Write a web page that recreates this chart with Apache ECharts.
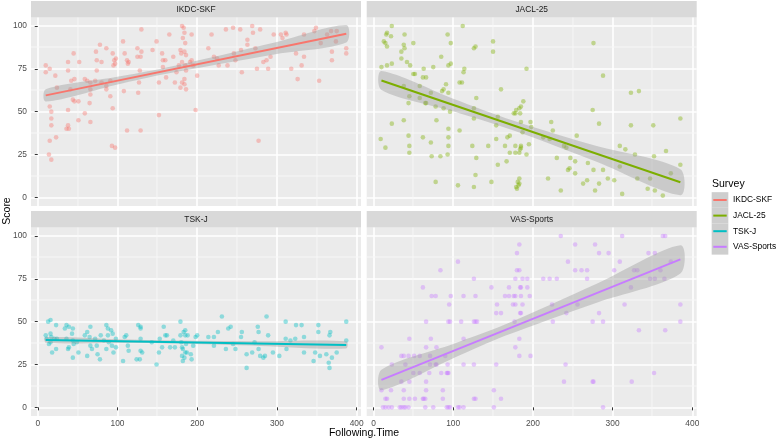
<!DOCTYPE html>
<html><head><meta charset="utf-8">
<script src="https://cdn.jsdelivr.net/npm/echarts@6/dist/echarts.min.js"></script>
<style>html,body{margin:0;padding:0;background:#fff}#c{width:778px;height:441px}</style>
</head><body><div id="c"></div>
<script>
const surveys = ['IKDC-SKF','JACL-25','TSK-J','VAS-Sports'];
const colors = ['#F8766D','#7CAE00','#00BFC4','#C77CFF'];
const xTicks = [0,100,200,300,400];
const yTicks = [0,25,50,75,100];
const xMinor = [50,150,250,350];
const yMinor = [12.5,37.5,62.5,87.5];

const ikdcPts = [[10,77],[10,73],[15,75],[22,71],[24,64],[15,53],[17,50],[17,46],[17,42],[15,33],[23,35],[14,25],[17,22],[38,79],[45,84],[38,74],[42,68],[46,69],[41,63],[44,57],[46,56],[51,56],[38,51],[38,42],[36,40],[39,40],[51,45],[52,79],[59,69],[62,68],[66,67],[66,63],[66,60],[65,55],[59,49],[66,44],[73,85],[78,89],[86,87],[74,80],[80,79],[74,74],[72,68],[80,67],[86,65],[86,63],[91,68],[94,84],[96,80],[97,78],[95,77],[98,81],[91,59],[94,52],[93,30],[97,29],[107,91],[109,84],[112,80],[113,78],[114,79],[108,62],[112,39],[125,82],[125,87],[129,82],[130,85],[130,98],[128,74],[126,61],[129,39],[127,67],[144,86],[149,91],[152,67],[152,48],[156,84],[157,80],[157,76],[160,80],[161,70],[165,95],[170,82],[172,67],[174,73],[177,77],[179,86],[180,84],[181,100],[183,99],[184,96],[182,93],[185,90],[184,85],[186,83],[181,79],[185,77],[186,74],[184,69],[181,67],[184,66],[179,64],[186,63],[191,79],[193,80],[193,95],[195,77],[200,71],[198,51],[218,95],[214,87],[221,82],[225,81],[227,77],[236,98],[238,77],[245,99],[246,84],[248,80],[254,98],[255,86],[256,73],[263,92],[263,89],[269,100],[270,96],[273,87],[275,75],[279,98],[277,33],[283,79],[287,80],[289,75],[292,82],[296,95],[305,95],[307,93],[311,96],[312,95],[318,75],[324,84],[326,69],[331,77],[334,82],[334,95],[347,97],[349,99],[353,68],[355,90],[363,95],[368,97],[369,85],[369,80],[374,91],[387,87],[387,84],[375,97]];

const jaclPts = [[23,100],[17,96],[16,95],[22,94],[13,91],[15,90],[17,88],[10,76],[17,77],[23,78],[39,95],[38,89],[35,85],[39,87],[50,90],[35,81],[42,79],[46,77],[50,72],[52,72],[38,65],[45,59],[44,55],[58,65],[58,58],[63,75],[62,70],[66,70],[65,55],[66,55],[72,61],[75,76],[78,53],[85,82],[86,62],[88,63],[91,66],[88,52],[93,95],[97,90],[94,77],[97,78],[94,61],[96,50],[79,45],[108,67],[111,67],[112,100],[114,75],[113,73],[126,87],[128,88],[129,58],[126,52],[126,46],[150,91],[150,85],[160,63],[156,47],[154,34],[156,19],[144,30],[129,23],[128,13],[106,7],[126,6],[148,9],[78,9],[192,75],[188,56],[185,53],[183,52],[179,51],[176,49],[178,49],[184,49],[185,44],[187,38],[197,44],[198,41],[195,31],[192,25],[185,30],[184,28],[183,26],[178,26],[171,26],[165,30],[167,21],[171,36],[183,11],[181,9],[183,8],[180,5],[182,7],[179,6],[213,35],[219,11],[221,34],[223,44],[225,39],[230,23],[235,4],[239,30],[242,29],[244,16],[246,17],[247,23],[253,21],[253,14],[255,36],[263,8],[268,10],[269,20],[275,51],[276,90],[276,16],[278,4],[283,8],[283,43],[288,71],[288,16],[294,11],[302,10],[309,30],[309,18],[312,2],[316,28],[323,61],[323,42],[328,25],[331,11],[333,62],[344,5],[347,11],[351,42],[352,24],[353,4],[363,1],[367,27],[373,14],[385,46],[385,19],[9,34],[15,29],[23,43],[38,45],[44,36],[45,30],[45,26],[62,35],[72,32],[73,24],[84,24],[93,25],[94,30],[94,35],[94,40],[108,39],[124,30],[154,42],[168,35],[178,30],[185,29]];

const tskPts = [[10,42],[11,40],[13,50],[16,51],[16,43],[17,41],[16,38],[14,37],[18,32],[21,40],[23,48],[23,34],[24,40],[34,46],[36,48],[39,47],[36,40],[39,35],[38,34],[44,46],[43,43],[44,39],[45,37],[44,29],[51,32],[49,38],[59,42],[62,44],[62,30],[66,47],[65,41],[66,36],[68,34],[72,40],[74,36],[75,31],[78,28],[79,42],[83,39],[86,48],[88,46],[88,42],[89,38],[86,34],[92,45],[94,43],[93,36],[95,32],[98,40],[98,35],[107,27],[109,41],[111,42],[113,36],[114,33],[124,28],[126,48],[129,47],[129,46],[129,40],[129,33],[131,32],[128,28],[143,38],[149,25],[152,32],[153,40],[156,35],[158,47],[160,42],[162,42],[166,35],[170,39],[172,35],[179,50],[179,42],[180,38],[181,35],[182,34],[181,30],[182,27],[183,44],[185,45],[185,42],[186,37],[185,32],[184,29],[187,32],[188,42],[192,31],[193,28],[195,36],[198,41],[200,42],[214,41],[221,36],[221,41],[226,44],[231,53],[236,34],[239,46],[242,47],[245,37],[248,34],[255,41],[256,44],[262,31],[262,23],[269,32],[272,38],[276,47],[277,44],[277,34],[279,30],[283,29],[285,30],[287,53],[289,42],[295,32],[303,30],[311,50],[311,40],[312,34],[317,39],[323,40],[324,48],[331,48],[334,32],[334,41],[346,27],[348,32],[352,48],[352,44],[354,30],[362,31],[365,26],[366,42],[367,44],[369,29],[366,23],[375,32],[387,50],[387,39]];

const vasPts = [[12,0],[15,0],[19,0],[23,0],[33,0],[35,0],[38,0],[40,0],[44,0],[65,0],[75,0],[92,0],[94,0],[96,0],[106,0],[108,0],[113,0],[151,0],[288,0],
[15,5],[17,5],[38,5],[45,5],[52,5],[62,5],[63,5],[65,5],[87,5],[126,5],[128,5],[160,5],
[10,10],[22,10],[38,10],[66,10],[87,10],[151,10],
[35,15],[45,15],[66,15],[239,15],[275,15],[276,15],[324,15],
[50,20],[58,20],[70,20],[85,20],[92,20],[93,20],[94,20],[352,20],
[23,25],[40,25],[71,25],[78,25],[79,25],[93,25],[113,25],[126,25],[154,25],[241,25],
[35,30],[38,30],[44,30],[51,30],[58,30],[71,30],[90,30],[183,30],[197,30],
[10,35],[66,35],[79,35],[178,35],
[45,40],[72,40],[113,40],[183,40],
[333,45],[366,45],
[66,50],[94,50],[96,50],[110,50],[126,50],[128,50],[130,50],[177,50],[225,50],[275,50],[288,50],[385,50],
[154,55],[160,55],[184,55],[185,55],[242,55],[283,55],
[95,60],[155,60],[175,60],[178,60],[187,60],[224,60],[256,60],[315,60],[385,60],
[73,65],[78,65],[97,65],[113,65],[128,65],[165,65],[170,65],[176,65],[178,65],[185,65],[196,65],
[62,70],[148,70],[170,70],[184,70],[185,70],[193,70],[323,70],
[126,75],[178,75],[187,75],[193,75],[213,75],[221,75],[230,75],[268,75],[347,75],[353,75],[365,75],
[84,80],[180,80],[183,80],[253,80],[261,80],[268,80],[302,80],[327,80],[331,80],[360,80],
[106,85],[244,85],[309,85],[373,85],
[180,90],[283,90],[295,90],[345,90],[353,90],
[183,95],[253,95],[278,95],
[235,100],[312,100],[363,100],[366,100]];

const ikdcFit = [[10,59.5],[387,95.5]];
const jaclFit = [[10,68.2],[385,8.8]];
const tskFit = [[10,39.3],[387,36.4]];
const vasFit = [[10,16.0],[385,86.3]];

const ikdcBandX = [10,100,160,300,387], ikdcBandLo = [55.9,65.9,72.0,83.7,90.4], ikdcBandHi = [63.1,70.3,75.6,90.7,100.6];
const jaclBandX = [10,100,175,280,385], jaclBandLo = [62.7,50.2,39.1,20.7,1.2], jaclBandHi = [73.7,57.6,44.9,29.9,16.4];
const tskBandX = [10,100,170,280,387], tskBandLo = [37.7,37.5,37.2,35.8,34.3], tskBandHi = [40.9,39.7,39.0,38.6,38.5];
const vasBandX = [10,100,165,280,385], vasBandLo = [10.0,28.6,41.7,61.1,78.1], vasBandHi = [22.0,37.0,48.3,72.1,94.6];

const allPts = [ikdcPts, jaclPts, tskPts, vasPts];
const allFit = [ikdcFit, jaclFit, tskFit, vasFit];
const allBand = [[ikdcBandX,ikdcBandLo,ikdcBandHi],[jaclBandX,jaclBandLo,jaclBandHi],[tskBandX,tskBandLo,tskBandHi],[vasBandX,vasBandLo,vasBandHi]];

const FONT = 'Liberation Sans, Arial, sans-serif';
const PW = 330, PH = 188.5, STRIP = 16.4;
const XMIN = -8.5, XMAX = 405.5, YMIN = -5, YMAX = 105;
const layout = [{l:31,t:17.4},{l:366.7,t:17.4},{l:31,t:227.4},{l:366.7,t:227.4}];

const grids = [], xAxes = [], yAxes = [], series = [], graphics = [];
layout.forEach((p, i) => {
  grids.push({left:p.l, top:p.t, width:PW, height:PH, show:true, backgroundColor:'#EBEBEB', borderWidth:0, containLabel:false});
  const bottom = i >= 2, leftCol = (i % 2 === 0);
  xAxes.push({type:'value', gridIndex:i, min:XMIN, max:XMAX,
    axisLine:{show:false},
    splitLine:{show:true, lineStyle:{color:'#FFFFFF', width:1.6}},
    axisTick:{show:bottom, length:3, customValues:xTicks, lineStyle:{color:'#333333', width:1}},
    axisLabel:{show:bottom, customValues:xTicks, margin:4, fontSize:8.4, color:'#4D4D4D', fontFamily:FONT}});
  yAxes.push({type:'value', gridIndex:i, min:YMIN, max:YMAX,
    axisLine:{show:false},
    splitLine:{show:true, lineStyle:{color:'#FFFFFF', width:1.6}},
    axisTick:{show:leftCol, length:3, customValues:yTicks, lineStyle:{color:'#333333', width:1}},
    axisLabel:{show:leftCol, customValues:yTicks, margin:4, fontSize:8.4, color:'#4D4D4D', fontFamily:FONT}});
  // minor grid lines (thin filled rects), positioned through the axes' scales
  series.push({type:'custom', xAxisIndex:i, yAxisIndex:i, data:[[0,0]], z:1, silent:true, clip:false,
    renderItem:(params, api) => {
      const tl = api.coord([XMIN, YMAX]), br = api.coord([XMAX, YMIN]);
      const children = [];
      xMinor.forEach(v => {
        const a = api.coord([v, YMAX]);
        children.push({type:'rect', shape:{x:Math.round(a[0]) - 0.5, y:tl[1], width:0.9, height:br[1]-tl[1]}, style:{fill:'#F8F8F8'}});
      });
      yMinor.forEach(v => {
        const a = api.coord([XMIN, v]);
        children.push({type:'rect', shape:{x:tl[0], y:Math.round(a[1]) - 0.5, width:br[0]-tl[0], height:0.9}, style:{fill:'#F8F8F8'}});
      });
      return {type:'group', children:children};
    }});
  // points
  series.push({type:'scatter', name:surveys[i], xAxisIndex:i, yAxisIndex:i, data:allPts[i], z:3,
    symbolSize:4.6, itemStyle:{color:colors[i], opacity:0.4}, silent:true});
  // confidence band
  const b = allBand[i];
  series.push({type:'custom', xAxisIndex:i, yAxisIndex:i, data:[[b[0][0], b[1][0]]], z:4, silent:true,
    renderItem:(params, api) => {
      const pts = [];
      for (let k = 0; k < b[0].length; k++) pts.push(api.coord([b[0][k], b[2][k]]));
      for (let k = b[0].length - 1; k >= 0; k--) pts.push(api.coord([b[0][k], b[1][k]]));
      return {type:'polygon', shape:{points:pts, smooth:0.3}, style:{fill:'rgba(153,153,153,0.4)'}};
    }});
  // fit line
  series.push({type:'line', xAxisIndex:i, yAxisIndex:i, data:allFit[i], z:5, silent:true,
    showSymbol:false, symbol:'none', lineStyle:{color:colors[i], width:2}});
  // strip
  graphics.push({type:'rect', left:p.l, top:p.t - STRIP, shape:{width:PW, height:STRIP}, style:{fill:'#D9D9D9'}, silent:true});
  graphics.push({type:'text', x:p.l + PW/2, y:p.t - STRIP/2, style:{text:surveys[i], fill:'#1A1A1A', font:'8.4px ' + FONT, align:'center', verticalAlign:'middle'}, silent:true});
});

// axis titles
graphics.push({type:'text', x:364, y:433, style:{text:'Following.Time', fill:'#000', font:'10.5px ' + FONT, align:'center', verticalAlign:'middle'}});
graphics.push({type:'text', x:7, y:211, rotation:Math.PI/2, style:{text:'Score', fill:'#000', font:'10.5px ' + FONT, align:'center', verticalAlign:'middle'}});

// legend
graphics.push({type:'text', x:712, y:184, style:{text:'Survey', fill:'#000', font:'10.5px ' + FONT, align:'left', verticalAlign:'middle'}});
surveys.forEach((s, k) => {
  const cy = 200 + k * 15.6;
  graphics.push({type:'rect', x:711.7, y:cy - 7.8, shape:{width:16.6, height:15.6}, style:{fill:'#F2F2F2'}});
  graphics.push({type:'rect', x:711.7, y:cy - 7.8, shape:{width:16.6, height:15.6}, style:{fill:'rgba(153,153,153,0.4)'}});
  graphics.push({type:'line', shape:{x1:713.3, y1:cy, x2:726.7, y2:cy}, style:{stroke:colors[k], lineWidth:2}});
  graphics.push({type:'text', x:733, y:cy, style:{text:s, fill:'#000', font:'8.4px ' + FONT, align:'left', verticalAlign:'middle'}});
});

const chart = echarts.init(document.getElementById('c'), null, {renderer:'canvas'});
chart.setOption({animation:false, backgroundColor:'#FFFFFF', grid:grids, xAxis:xAxes, yAxis:yAxes, series:series, graphic:graphics});
</script></body></html>
